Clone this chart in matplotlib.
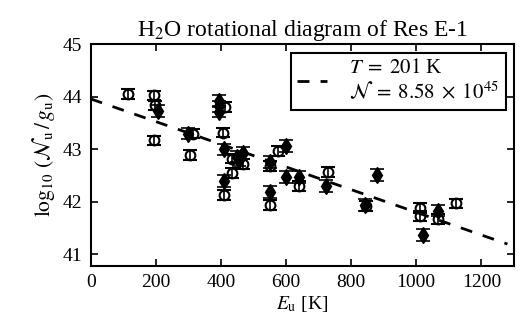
import numpy as np
import matplotlib
matplotlib.use("Agg")
import matplotlib.pyplot as plt

plt.rcParams["font.family"] = ["Liberation Serif", "DejaVu Serif"]
plt.rcParams["mathtext.fontset"] = "stix"
plt.rcParams["font.size"] = 14

# open circles (E_u [K], log10(N_u/g_u))
circ_E = [115, 195, 197, 195, 313, 305, 412, 407, 433, 433, 409, 468,
          574, 550, 550, 640, 729, 846, 1013, 1013, 1067, 1123]
circ_N = [44.05, 44.03, 43.84, 43.17, 43.30, 42.89, 43.81, 43.32, 42.82, 42.55, 42.13, 42.72,
          42.97, 42.68, 41.94, 42.30, 42.57, 41.92, 41.88, 41.73, 41.67, 41.97]
circ_err = 0.09

# filled diamonds
diam_E = [206, 298, 394, 394, 394, 409, 448, 468, 455, 409,
          599, 550, 550, 599, 640, 724, 878, 844, 1021, 1067]
diam_N = [43.73, 43.30, 43.92, 43.82, 43.72, 43.00, 42.86, 42.93, 42.80, 42.40,
          43.06, 42.76, 42.19, 42.47, 42.47, 42.30, 42.51, 41.94, 41.37, 41.83]
diam_err = 0.11

# fit
T_rot = 201.0
intercept = 43.96
fit_E = np.array([0, 1280])
fit_N = intercept - fit_E / (T_rot * np.log(10))

fig = plt.figure(figsize=(5.29, 3.31), dpi=100)
ax = fig.add_axes([0.1715, 0.197, 0.80, 0.669])

ax.errorbar(circ_E, circ_N, yerr=circ_err, fmt="o", mfc="none", mec="black",
            mew=1.5, ms=7, ecolor="black", elinewidth=1.2, capsize=5, capthick=1.2)
ax.errorbar(diam_E, diam_N, yerr=diam_err, fmt="d", color="black",
            ms=8, ecolor="black", elinewidth=1.2, capsize=5, capthick=1.2)
ax.plot(fit_E, fit_N, "k--", lw=2, dashes=(4.3, 4),
        label="$T\\;=\\;201$ K\n$\\mathcal{N}\\;=\\;8.58\\;\\times\\;10^{45}$")

ax.set_xlim(0, 1300)
ax.set_ylim(40.78, 45)
ax.set_xticks([0, 200, 400, 600, 800, 1000, 1200])
ax.set_yticks([41, 42, 43, 44, 45])
ax.tick_params(direction="in", top=True, right=True, length=5, width=1.2, pad=6)
for s in ax.spines.values():
    s.set_linewidth(1.5)

ax.set_xlabel("$E_{\\rm u}$ [K]", labelpad=2)
ax.set_ylabel("$\\log_{10}\\,(\\mathcal{N}_{\\rm u}\\,/\\,g_{\\rm u})$", fontsize=15.5, labelpad=4)
ax.set_title("H$_2$O rotational diagram of Res E-1", fontsize=17, pad=6)

leg = ax.legend(loc="upper right", fancybox=False, framealpha=1, fontsize=15,
                edgecolor="black", handlelength=1.4, handletextpad=1.1,
                borderaxespad=0.4, borderpad=0.3)
leg.get_frame().set_linewidth(1.5)

fig.savefig("out.png", dpi=100)
